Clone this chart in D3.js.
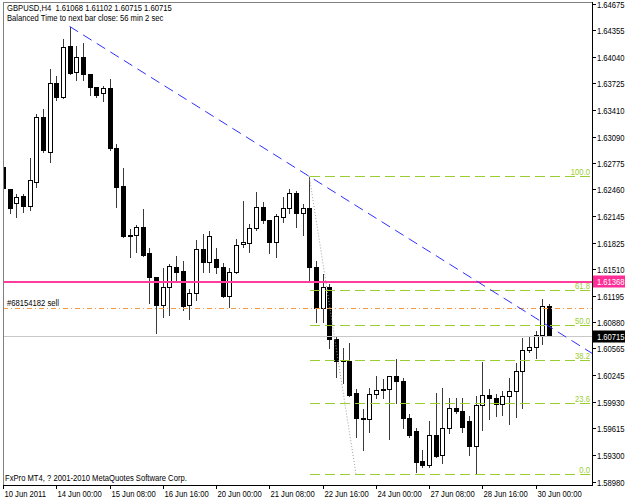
<!DOCTYPE html>
<html>
<head>
<meta charset="utf-8">
<script src="https://cdn.jsdelivr.net/npm/d3@7"></script>
<style>
body { margin: 0; background: #fff; }
svg { display: block; }
text { font-family: "Liberation Sans", Arial, sans-serif; font-size: 9px; fill: #000; }
</style>
</head>
<body>
<div id="chart"></div>
<script>
// GBPUSD H4 bars, 10 Jun 2011 16:00 -> 30 Jun 2011 08:00 (one entry per bar)
var opens = [1.62725,1.62464,1.62297,1.62381,1.62262,1.62547,1.63320,1.62904,1.63724,1.63558,
  1.64164,1.63855,1.64033,1.63831,1.63677,1.63605,1.63665,1.62951,1.62500,1.61917,
  1.61917,1.62012,1.61703,1.61417,1.61085,1.61299,1.61536,1.61489,1.61085,1.61227,
  1.61750,1.61596,1.61632,1.61536,1.61192,1.61477,1.61810,1.61822,1.62000,1.62250,
  1.62095,1.61834,1.62131,1.62238,1.62416,1.62178,1.62238,1.61536,1.61049,1.61299,
  1.60680,1.60431,1.60419,1.60038,1.59741,1.59729,1.60026,1.60074,1.60086,1.60240,
  1.60181,1.59741,1.59586,1.59230,1.59182,1.59539,1.59301,1.59622,1.59860,1.59824,
  1.59705,1.59408,1.59896,1.60014,1.59979,1.59907,1.60003,1.60062,1.60300,1.60549,
  1.60585,1.60728,1.61068];
var highs = [1.62785,1.62476,1.62416,1.62416,1.62844,1.63367,1.63427,1.63903,1.63819,1.64259,
  1.64402,1.64176,1.64212,1.63843,1.63689,1.63700,1.63784,1.63011,1.62725,1.62000,
  1.62048,1.62238,1.61774,1.61429,1.61536,1.61584,1.61679,1.61620,1.61287,1.61869,
  1.61941,1.61976,1.61774,1.61596,1.61536,1.61881,1.62333,1.62060,1.62440,1.62321,
  1.62107,1.62178,1.62381,1.62476,1.62452,1.62297,1.62615,1.61620,1.61465,1.61346,
  1.60728,1.60585,1.60645,1.60098,1.59860,1.60110,1.60252,1.60217,1.60252,1.60454,
  1.60228,1.59800,1.59634,1.59372,1.59717,1.60050,1.60110,1.59991,1.59991,1.59991,
  1.59777,1.60014,1.60419,1.60098,1.60038,1.60074,1.60228,1.60407,1.60704,1.60716,
  1.60787,1.61168,1.61102];
var lows = [1.62202,1.62178,1.62131,1.62190,1.62214,1.62488,1.62904,1.62785,1.63522,1.63546,
  1.63831,1.63760,1.63760,1.63581,1.63558,1.63510,1.62927,1.62250,1.61893,1.61655,
  1.61715,1.61670,1.61108,1.60752,1.60942,1.60966,1.61382,1.61025,1.60918,1.61144,
  1.61477,1.61477,1.61465,1.61180,1.61061,1.61465,1.61774,1.61715,1.61976,1.62060,
  1.61703,1.61655,1.62071,1.62178,1.62012,1.61917,1.61358,1.60882,1.60882,1.60573,
  1.60228,1.60157,1.60003,1.59515,1.59360,1.59575,1.59979,1.59979,1.59491,1.59919,
  1.59622,1.59515,1.59099,1.59147,1.59158,1.59277,1.59206,1.59563,1.59800,1.59575,
  1.59301,1.59075,1.59598,1.59729,1.59765,1.59777,1.59670,1.59753,1.59860,1.60526,
  1.60454,1.60621,1.60715];
var closes = [1.62476,1.62238,1.62369,1.62262,1.62571,1.63320,1.62927,1.63724,1.63558,1.64152,
  1.63843,1.64033,1.63831,1.63677,1.63581,1.63665,1.62951,1.62488,1.61905,1.61910,
  1.62012,1.61679,1.61417,1.61085,1.61299,1.61548,1.61477,1.61073,1.61227,1.61750,
  1.61596,1.61905,1.61536,1.61192,1.61477,1.61798,1.61834,1.62000,1.62250,1.62095,
  1.61834,1.62143,1.62238,1.62416,1.62178,1.62238,1.61536,1.61049,1.61299,1.60680,
  1.60419,1.60419,1.60014,1.59741,1.59735,1.60026,1.60074,1.60086,1.60240,1.60181,
  1.59741,1.59539,1.59218,1.59182,1.59539,1.59289,1.59622,1.59860,1.59824,1.59634,
  1.59408,1.59896,1.60014,1.59979,1.59907,1.60003,1.60062,1.60300,1.60549,1.60585,
  1.60728,1.61065,1.60715];

// time axis labels (bar index, text)
var timeTickBars = [0, 8, 16, 24, 32, 40, 48, 56, 64, 72, 80];
var timeTickLabels = ["10 Jun 2011","14 Jun 00:00","15 Jun 08:00","16 Jun 16:00","20 Jun 00:00",
  "21 Jun 08:00","22 Jun 16:00","24 Jun 00:00","27 Jun 08:00","28 Jun 16:00","30 Jun 00:00"];

// price axis labels
var priceTicks = [1.64675,1.64355,1.64040,1.63725,1.63410,1.63090,1.62775,1.62460,1.62145,1.61825,
  1.61510,1.61195,1.60880,1.60565,1.60245,1.59930,1.59615,1.59300,1.58980];

// objects on the chart
var fibLevels = [0, 23.6, 38.2, 50.0, 61.8, 100.0];
var fibHigh = 1.62615, fibLow = 1.59075;
var fibBars = [46, 53];
var trendBars = [10, 46];
var trendPrices = [1.64402, 1.62615];
var alertPrice = 1.61368;
var orderPrice = 1.61049;
var bidPrice = 1.60715;

var svgWidth = 625, svgHeight = 500;
var plot = { left: 3, right: 592, top: 2, bottom: 485 };
var squeeze = 0.85; // terminal font is narrower than Liberation Sans

var svg = d3.select("#chart").append("svg")
  .attr("width", svgWidth)
  .attr("height", svgHeight);

var x = d3.scaleLinear().domain([0, 82]).range([3, 549]);
var y = d3.scaleLinear().domain([1.58980, 1.64675]).range([481.5, 3.5]);

var px = function(i) { return Math.round(x(i)) + 0.5; };
var py = function(v) { return Math.round(y(v)) + 0.5; };

// text placed with a horizontal squeeze
function label(sel, tx, ty) {
  return sel.attr("transform", function(d, k) {
    var xx = typeof tx === "function" ? tx(d, k) : tx;
    var yy = typeof ty === "function" ? ty(d, k) : ty;
    return "translate(" + xx + "," + yy + ") scale(" + squeeze + ",1)";
  });
}

svg.append("clipPath").attr("id", "clip")
  .append("rect")
  .attr("x", plot.left).attr("y", plot.top)
  .attr("width", plot.right - plot.left).attr("height", plot.bottom - plot.top);

var g = svg.append("g").attr("clip-path", "url(#clip)");

// candles
var bars = d3.range(opens.length).map(function(i) {
  return { i: i, o: opens[i], h: highs[i], l: lows[i], c: closes[i] };
});

var candle = g.selectAll("g.candle")
  .data(bars)
  .enter().append("g")
  .attr("class", "candle");

candle.append("line")
  .attr("x1", d => px(d.i)).attr("x2", d => px(d.i))
  .attr("y1", d => py(d.h)).attr("y2", d => py(d.l))
  .attr("stroke", "#3a3a3a")
  .attr("shape-rendering", "crispEdges");

candle.append("rect")
  .attr("x", d => px(d.i) - 2)
  .attr("width", 4)
  .attr("y", d => py(Math.max(d.o, d.c)))
  .attr("height", d => Math.max(1, py(Math.min(d.o, d.c)) - py(Math.max(d.o, d.c))))
  .attr("fill", d => d.c > d.o ? "#fff" : "#000")
  .attr("stroke", "#000")
  .attr("shape-rendering", "crispEdges");

// bid line
g.append("line")
  .attr("x1", plot.left).attr("x2", plot.right)
  .attr("y1", py(bidPrice)).attr("y2", py(bidPrice))
  .attr("stroke", "#c8c8c8").attr("shape-rendering", "crispEdges");

// alert line (pink, drawn 2px like the terminal does)
g.append("line")
  .attr("x1", plot.left).attr("x2", plot.right)
  .attr("y1", Math.round(y(alertPrice)) + 1).attr("y2", Math.round(y(alertPrice)) + 1)
  .attr("stroke", "#ff3c9c").attr("stroke-width", 2)
  .attr("shape-rendering", "crispEdges");

// order line (orange dash-dot)
g.append("line")
  .attr("x1", plot.left).attr("x2", plot.right)
  .attr("y1", py(orderPrice)).attr("y2", py(orderPrice))
  .attr("stroke", "#f39a40").attr("stroke-dasharray", "5,3,1,3")
  .attr("shape-rendering", "crispEdges");

label(svg.append("text"), 7, py(orderPrice) - 3)
  .text("#68154182 sell");

// fibonacci
var fib = fibLevels.map(function(lv) {
  return { lv: lv, p: fibLow + (fibHigh - fibLow) * lv / 100 };
});

g.selectAll("line.fib")
  .data(fib).enter().append("line")
  .attr("class", "fib")
  .attr("x1", px(fibBars[0])).attr("x2", plot.right)
  .attr("y1", d => py(d.p)).attr("y2", d => py(d.p))
  .attr("stroke", "#9acd32").attr("stroke-dasharray", "10,5")
  .attr("shape-rendering", "crispEdges");

label(svg.selectAll("text.fib")
  .data(fib).enter().append("text")
  .attr("class", "fib"), plot.right - 2, d => py(d.p) - 2)
  .attr("text-anchor", "end")
  .style("fill", "#9acd32")
  .text(d => d.lv.toFixed(1));

g.append("line")
  .attr("x1", x(fibBars[0])).attr("y1", y(fibHigh))
  .attr("x2", x(fibBars[1])).attr("y2", y(fibLow))
  .attr("stroke", "#a0a0a0").attr("stroke-dasharray", "1,2");

// trend line (ray to the right)
var slope = (y(trendPrices[1]) - y(trendPrices[0])) / (x(trendBars[1]) - x(trendBars[0]));
g.append("line")
  .attr("x1", x(trendBars[0])).attr("y1", y(trendPrices[0]))
  .attr("x2", plot.right).attr("y2", y(trendPrices[0]) + slope * (plot.right - x(trendBars[0])))
  .attr("stroke", "#3030ff").attr("stroke-dasharray", "10,6");

// frame
svg.append("line").attr("x1", plot.left + 0.5).attr("x2", plot.left + 0.5)
  .attr("y1", plot.top).attr("y2", plot.bottom).attr("stroke", "#808080");
svg.append("line").attr("x1", plot.left).attr("x2", plot.right)
  .attr("y1", plot.top + 0.5).attr("y2", plot.top + 0.5).attr("stroke", "#808080");
svg.append("line").attr("x1", plot.right + 0.5).attr("x2", plot.right + 0.5)
  .attr("y1", plot.top).attr("y2", plot.bottom + 1).attr("stroke", "#000");
svg.append("line").attr("x1", plot.left).attr("x2", plot.right + 1)
  .attr("y1", plot.bottom + 0.5).attr("y2", plot.bottom + 0.5).attr("stroke", "#000");

// price axis
var yAxis = svg.append("g");
yAxis.selectAll("line").data(priceTicks).enter().append("line")
  .attr("x1", plot.right).attr("x2", plot.right + 4)
  .attr("y1", d => py(d)).attr("y2", d => py(d))
  .attr("stroke", "#000").attr("shape-rendering", "crispEdges");
label(yAxis.selectAll("text").data(priceTicks).enter().append("text"),
  plot.right + 5, d => py(d) + 3)
  .text(d => d.toFixed(5));

// price markers
function marker(p, fill) {
  svg.append("rect")
    .attr("x", plot.right + 1).attr("y", py(p) - 6)
    .attr("width", svgWidth - plot.right - 1).attr("height", 12)
    .attr("fill", fill);
  label(svg.append("text"), plot.right + 5, py(p) + 3)
    .style("fill", "#fff")
    .text(p.toFixed(5));
}
marker(alertPrice, "#ff2d95");
marker(bidPrice, "#000");

// time axis
var xAxis = svg.append("g");
xAxis.selectAll("line").data(timeTickBars).enter().append("line")
  .attr("x1", d => px(d)).attr("x2", d => px(d))
  .attr("y1", plot.bottom).attr("y2", plot.bottom + 4)
  .attr("stroke", "#000").attr("shape-rendering", "crispEdges");
label(xAxis.selectAll("text").data(timeTickLabels).enter().append("text"),
  (d, k) => px(timeTickBars[k]) + 1, 497)
  .text(d => d);

// header / footer
label(svg.append("text"), 7, 11)
  .attr("xml:space", "preserve")
  .text("GBPUSD,H4  1.61068 1.61102 1.60715 1.60715");
label(svg.append("text"), 7, 21)
  .text("Balanced Time to next bar close: 56 min 2 sec");
label(svg.append("text"), 5, 481)
  .text("FxPro MT4, ? 2001-2010 MetaQuotes Software Corp.");
</script>
</body>
</html>
